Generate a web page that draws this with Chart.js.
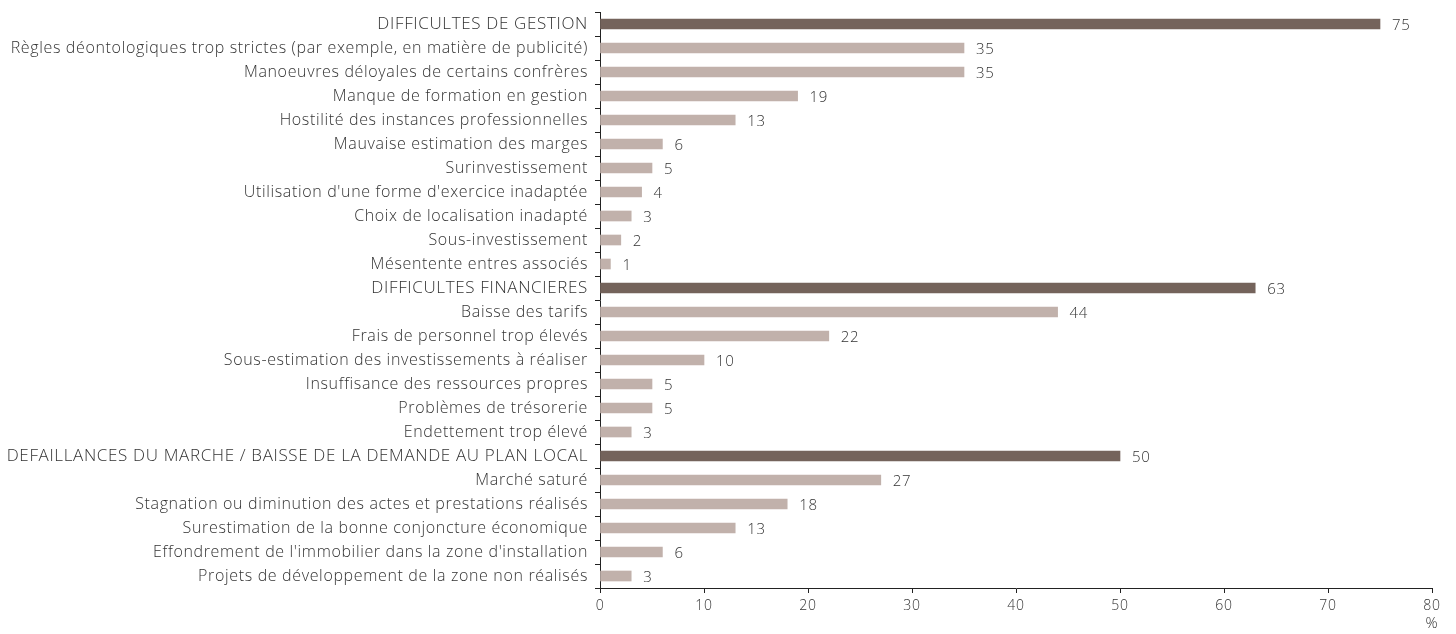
<!DOCTYPE html>
<html>
<head>
<meta charset="utf-8">
<script src="https://cdn.jsdelivr.net/npm/chart.js@4"></script>
<style>
  html, body { margin: 0; padding: 0; background: #ffffff; }
  #wrap { width: 1456px; height: 634px; position: relative; }
</style>
</head>
<body>
<div id="wrap"><canvas id="chart"></canvas></div>
<script>
// rubriques et sous-rubriques (de haut en bas)
const categories = [
  "DIFFICULTES DE GESTION",
  "Règles déontologiques trop strictes (par exemple, en matière de publicité)",
  "Manoeuvres déloyales de certains confrères",
  "Manque de formation en gestion",
  "Hostilité des instances professionnelles",
  "Mauvaise estimation des marges",
  "Surinvestissement",
  "Utilisation d'une forme d'exercice inadaptée",
  "Choix de localisation inadapté",
  "Sous-investissement",
  "Mésentente entres associés",
  "DIFFICULTES FINANCIERES",
  "Baisse des tarifs",
  "Frais de personnel trop élevés",
  "Sous-estimation des investissements à réaliser",
  "Insuffisance des ressources propres",
  "Problèmes de trésorerie",
  "Endettement trop élevé",
  "DEFAILLANCES DU MARCHE / BAISSE DE LA DEMANDE AU PLAN LOCAL",
  "Marché saturé",
  "Stagnation ou diminution des actes et prestations réalisés",
  "Surestimation de la bonne conjoncture économique",
  "Effondrement de l'immobilier dans la zone d'installation",
  "Projets de développement de la zone non réalisés",
];
const values = [75, 35, 35, 19, 13, 6, 5, 4, 3, 2, 1, 63, 44, 22, 10, 5, 5, 3, 50, 27, 18, 13, 6, 3];
// 1 = rubrique principale (barre foncée)
const isHeading = [1, 0, 0, 0, 0, 0, 0, 0, 0, 0, 0, 1, 0, 0, 0, 0, 0, 0, 1, 0, 0, 0, 0, 0];
const xTicks = [0, 10, 20, 30, 40, 50, 60, 70, 80];

const DARK = "#74635b";
const LIGHT = "#c1b1ab";
const FONT = "'Open Sans', Lato, sans-serif";

// texte un peu espacé, comme une police large
const spacing = {
  id: "spacing",
  beforeDraw(chart) {
    chart.ctx.letterSpacing = "0.65px";
  },
  afterDraw(chart) {
    chart.ctx.letterSpacing = "0px";
  },
};

// valeurs à droite des barres + le "%" sous l'axe
const valueLabels = {
  id: "valueLabels",
  afterDatasetsDraw(chart) {
    const { ctx } = chart;
    const meta = chart.getDatasetMeta(0);
    ctx.save();
    ctx.font = "300 15px " + FONT;
    ctx.fillStyle = "#333333";
    ctx.textAlign = "left";
    ctx.textBaseline = "middle";
    meta.data.forEach((bar, i) => {
      ctx.fillText(String(values[i]), bar.x + 12, bar.y + 2);
    });
    const xs = chart.scales.x;
    ctx.textAlign = "center";
    ctx.fillText("%", xs.getPixelForValue(80), 624);
    ctx.restore();
  },
};

new Chart(document.getElementById("chart"), {
  type: "bar",
  data: {
    labels: categories,
    datasets: [
      {
        data: values,
        backgroundColor: isHeading.map((h) => (h ? DARK : LIGHT)),
        barThickness: 10,
        borderWidth: 0,
      },
    ],
  },
  options: {
    indexAxis: "y",
    responsive: true,
    maintainAspectRatio: false,
    animation: false,
    layout: { padding: { top: 12, right: 24, left: 0, bottom: 0 } },
    plugins: {
      legend: { display: false },
      tooltip: { enabled: false },
    },
    scales: {
      x: {
        min: 0,
        max: 80,
        afterBuildTicks: (scale) => {
          scale.ticks = xTicks.map((v) => ({ value: v }));
        },
        afterFit: (scale) => {
          scale.height = 46;
        },
        grid: {
          display: true,
          drawOnChartArea: false,
          drawTicks: true,
          tickLength: 5,
          color: "#222222",
        },
        border: { display: true, color: "#222222", width: 1 },
        ticks: {
          color: "#333333",
          font: { family: FONT, size: 14, weight: 300 },
          padding: 5,
          maxRotation: 0,
        },
      },
      y: {
        afterFit: (scale) => {
          scale.width = 600;
          scale.paddingTop = 0;
          scale.paddingBottom = 0;
        },
        grid: {
          display: true,
          offset: true,
          drawOnChartArea: false,
          drawTicks: true,
          tickLength: 5,
          color: "#222222",
        },
        border: { display: true, color: "#222222", width: 1 },
        ticks: {
          color: "#333333",
          font: (ctx) => ({
            family: FONT,
            size: isHeading[ctx.index] ? 17 : 16,
            weight: 300,
          }),
          padding: 7,
          autoSkip: false,
        },
      },
    },
  },
  plugins: [spacing, valueLabels],
});
</script>
</body>
</html>
